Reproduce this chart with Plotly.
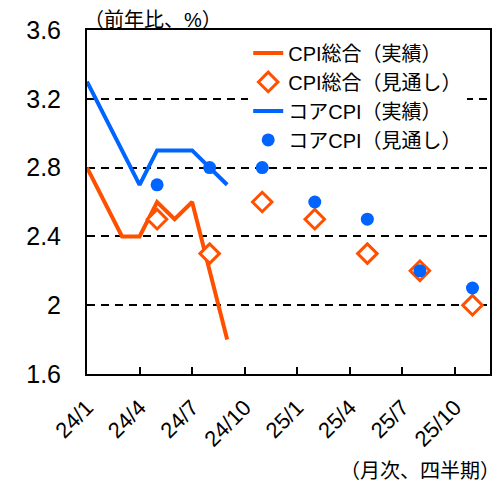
import plotly.graph_objects as go

# Month axis (category labels)
months = ["24/1", "24/2", "24/3", "24/4", "24/5", "24/6", "24/7", "24/8", "24/9",
          "24/10", "24/11", "24/12", "25/1", "25/2", "25/3", "25/4", "25/5", "25/6",
          "25/7", "25/8", "25/9", "25/10", "25/11", "25/12"]
tick_labels = ["24/1", "24/4", "24/7", "24/10", "25/1", "25/4", "25/7", "25/10"]

# Actual (monthly)
actual_months = ["24/1", "24/2", "24/3", "24/4", "24/5", "24/6", "24/7", "24/8", "24/9"]
cpi_actual = [2.8, 2.6, 2.4, 2.4, 2.6, 2.5, 2.6, 2.2, 1.8]
core_actual = [3.3, 3.1, 2.9, 2.7, 2.9, 2.9, 2.9, 2.8, 2.7]

# Projections (quarterly, plotted at mid-quarter month)
proj_months = ["24/5", "24/8", "24/11", "25/2", "25/5", "25/8", "25/11"]
cpi_proj = [2.5, 2.3, 2.6, 2.5, 2.3, 2.2, 2.0]
core_proj = [2.7, 2.8, 2.8, 2.6, 2.5, 2.2, 2.1]

y_ticks = [1.6, 2.0, 2.4, 2.8, 3.2, 3.6]
y_tick_text = ["1.6", "2", "2.4", "2.8", "3.2", "3.6"]

ORANGE = "#FF5000"
BLUE = "#0064FF"
FONT = "Liberation Sans, Arial, Noto Sans CJK JP, sans-serif"

fig = go.Figure()
fig.add_trace(go.Scatter(x=actual_months, y=cpi_actual, mode="lines",
                         name="CPI総合（実績）",
                         line=dict(color=ORANGE, width=4)))
fig.add_trace(go.Scatter(x=proj_months, y=cpi_proj, mode="markers",
                         name="CPI総合（見通し）",
                         marker=dict(symbol="diamond", size=15, color="white",
                                     line=dict(color=ORANGE, width=3))))
fig.add_trace(go.Scatter(x=actual_months, y=core_actual, mode="lines",
                         name="コアCPI（実績）",
                         line=dict(color=BLUE, width=4)))
fig.add_trace(go.Scatter(x=proj_months, y=core_proj, mode="markers",
                         name="コアCPI（見通し）",
                         marker=dict(symbol="circle", size=13, color=BLUE)))

fig.update_layout(
    width=496, height=474,
    margin=dict(l=79, r=14, t=22, b=108, autoexpand=False),
    paper_bgcolor="white", plot_bgcolor="white",
    font=dict(family=FONT, color="black", size=20),
    showlegend=True,
    legend=dict(x=0.40, y=0.99, xanchor="left", yanchor="top",
                bgcolor="white", borderwidth=0,
                font=dict(family=FONT, size=20, color="black"),
                tracegroupgap=0, itemwidth=30),
    annotations=[
        dict(text="（前年比、%）", xref="paper", yref="paper",
             x=-0.012, y=1.0305, xanchor="left", yanchor="middle",
             showarrow=False, font=dict(family=FONT, size=20)),
        dict(text="（月次、四半期）", xref="paper", yref="paper",
             x=1.03, y=-0.282, xanchor="right", yanchor="middle",
             showarrow=False, font=dict(family=FONT, size=20)),
    ],
)

fig.update_xaxes(
    type="category", categoryorder="array", categoryarray=months,
    range=[0, len(months) - 1],
    tickmode="array", tickvals=tick_labels, ticktext=tick_labels,
    tickangle=-45, tickfont=dict(family=FONT, size=22, color="black"),
    ticks="inside", ticklen=7, tickwidth=2, tickcolor="black",
    ticklabelstandoff=10,
    showgrid=False, zeroline=False,
    showline=True, linecolor="black", linewidth=2, mirror=True,
)
fig.update_yaxes(
    range=[1.6, 3.6],
    tickmode="array", tickvals=y_ticks, ticktext=y_tick_text,
    tickfont=dict(family=FONT, size=25, color="black"),
    ticks="", ticklabelstandoff=19,
    showgrid=True, gridcolor="black", gridwidth=2, griddash="8px,6px",
    zeroline=False,
    showline=True, linecolor="black", linewidth=2, mirror=True,
)

fig.write_html("out.html")
